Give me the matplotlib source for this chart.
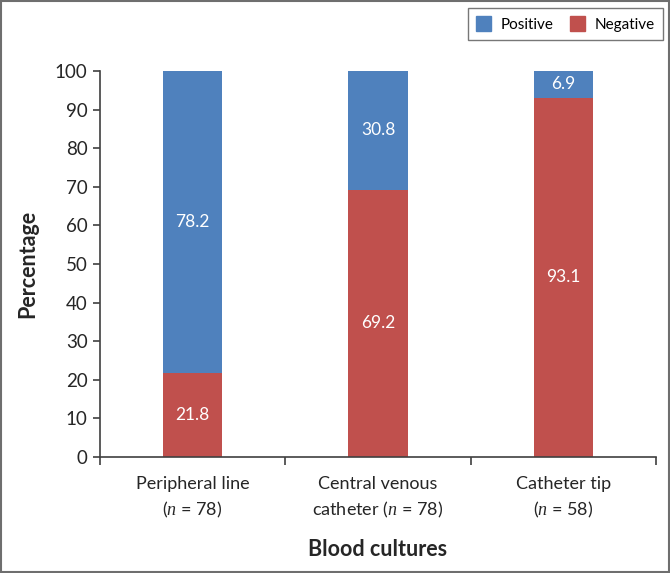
import numpy as np
import matplotlib
matplotlib.use("Agg")
import matplotlib.pyplot as plt
from matplotlib.patches import Rectangle, Patch

# data
categories = ["Peripheral line\n($n$ = 78)",
              "Central venous\ncatheter ($n$ = 78)",
              "Catheter tip\n($n$ = 58)"]
negative = [21.8, 69.2, 93.1]
positive = [78.2, 30.8, 6.9]

blue = "#4F81BD"
red = "#C0504D"

plt.rcParams["font.family"] = ["Lato", "DejaVu Sans"]
plt.rcParams["mathtext.fontset"] = "custom"
plt.rcParams["mathtext.it"] = "Liberation Serif:italic"
plt.rcParams["mathtext.rm"] = "Lato"

fig = plt.figure(figsize=(6.7, 5.73), dpi=100)
ax = fig.add_axes([100/670, 1-457/573, 556/670, 386/573])

x = np.arange(len(categories)) + 0.5
w = 0.32
ax.bar(x, negative, w, color=red, zorder=2)
ax.bar(x, positive, w, bottom=negative, color=blue, zorder=2)

# value labels inside the segments
for xi, n, p in zip(x, negative, positive):
    ax.text(xi, n/2, f"{n}", ha="center", va="center", color="white", fontsize=12.5)
    ax.text(xi, n + p/2, f"{p}", ha="center", va="center", color="white", fontsize=12.5)

ax.set_xlim(0, 3)
ax.set_ylim(0, 100)
ax.set_yticks(np.arange(0, 101, 10))
ax.set_xticks([0, 1, 2, 3])
ax.set_xticklabels([])
ax.set_xticks(x, minor=True)
ax.set_xticklabels(categories, minor=True, fontsize=13, color="#262626", linespacing=1.45)
ax.tick_params(axis="x", which="major", length=6, width=1.2, color="#404040", direction="out")
ax.tick_params(axis="x", which="minor", length=0, pad=14)
ax.tick_params(axis="y", length=5, width=1.2, color="#404040", labelsize=13.5, labelcolor="#262626", pad=4)

for s in ["top", "right"]:
    ax.spines[s].set_visible(False)
for s in ["left", "bottom"]:
    ax.spines[s].set_color("#404040")
    ax.spines[s].set_linewidth(1.2)

ax.set_ylabel("Percentage", fontsize=15.5, fontweight="bold", color="#262626", labelpad=12)
ax.set_xlabel("Blood cultures", fontsize=15.5, fontweight="bold", color="#262626", labelpad=14)

handles = [Patch(color=blue, label="Positive"), Patch(color=red, label="Negative")]
leg = fig.legend(handles=handles, loc="upper right", bbox_to_anchor=(663/670, 1-8/573),
                 ncol=2, fontsize=11, frameon=True, fancybox=False,
                 handlelength=1.0, handleheight=1.05, columnspacing=1.1, handletextpad=0.6,
                 borderpad=0.55, borderaxespad=0, edgecolor="#555555")
leg.get_frame().set_linewidth(1.0)

# outer border
fig.patches.append(Rectangle((0.002, 0.002), 0.996, 0.996, transform=fig.transFigure,
                             fill=False, edgecolor="#6e6e6e", linewidth=1.5))

fig.savefig("out.png", dpi=100)
